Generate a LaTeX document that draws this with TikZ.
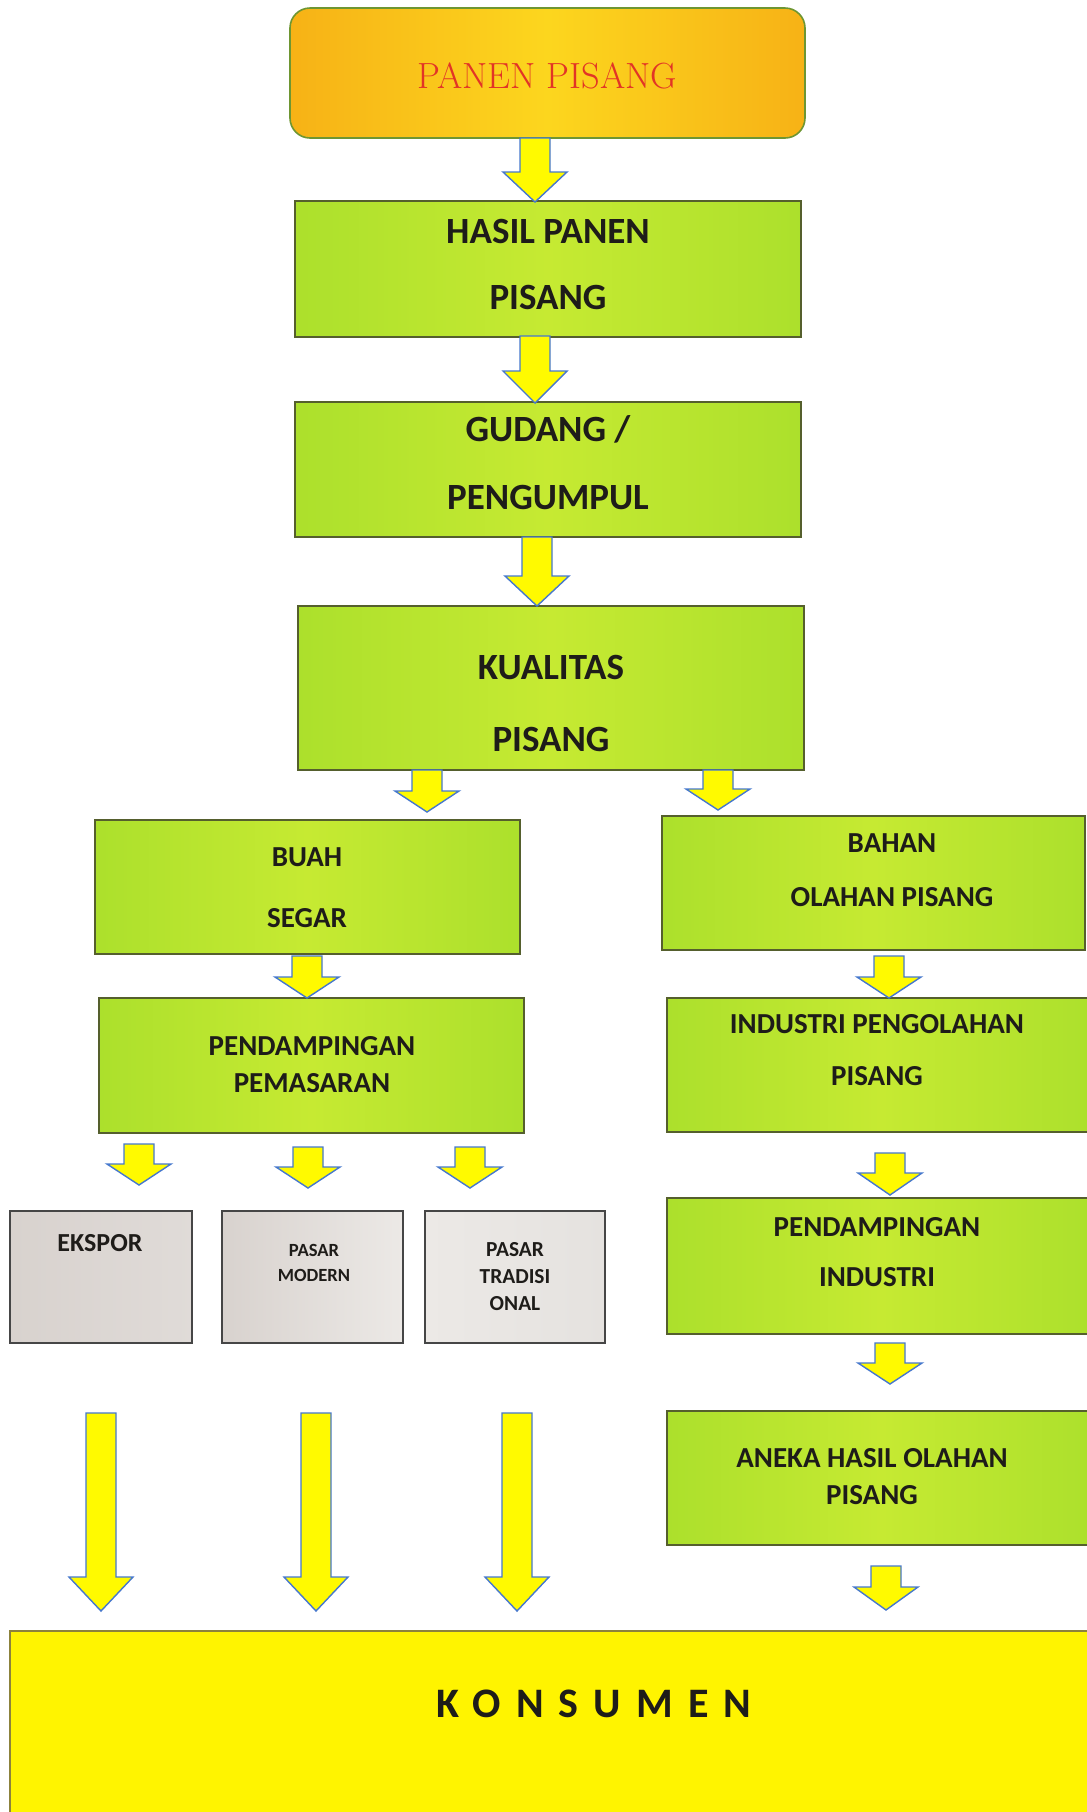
\documentclass[tikz,border=0pt]{standalone}
\usepackage{fontspec}
\newfontfamily\calfont{Carlito}
\newfontfamily\calspaced{Carlito}[LetterSpace=36]
\usetikzlibrary{calc}
\definecolor{boxgreen}{RGB}{172,224,44}
\definecolor{boxgreenM}{RGB}{198,234,50}
\definecolor{boxedge}{RGB}{85,95,45}
\definecolor{panenL}{RGB}{247,178,22}
\definecolor{panenM}{RGB}{252,214,30}
\definecolor{panenedge}{RGB}{110,150,50}
\definecolor{panentext}{RGB}{226,52,38}
\definecolor{greyL}{RGB}{216,210,206}
\definecolor{greyR}{RGB}{236,233,230}
\definecolor{greyedge}{RGB}{70,70,70}
\definecolor{konsfill}{RGB}{255,244,0}
\definecolor{konsedge}{RGB}{140,130,60}
\definecolor{arrfill}{RGB}{255,250,0}
\definecolor{arredge}{RGB}{70,120,205}
\definecolor{txt}{RGB}{30,28,25}
\newcommand{\barrow}[3]{\draw[blockarr] let \p1=(#1), \p2=(#2) in
  (\x1-7.5pt,\y1) -- (\x1+7.5pt,\y1) -- (\x1+7.5pt,\y2+#3) -- (\x1+16pt,\y2+#3)
  -- (\x1,\y2) -- (\x1-16pt,\y2+#3) -- (\x1-7.5pt,\y2+#3) -- cycle;}
\tikzset{
  gbox/.style={draw=boxedge, line width=0.7pt, left color=boxgreen, right color=boxgreen, middle color=boxgreenM, inner sep=0pt},
  greybox/.style={draw=greyedge, line width=0.9pt, left color=greyL, right color=greyR, inner sep=0pt},
  blockarr/.style={draw=arredge, line width=0.7pt, fill=arrfill, line join=miter},
  bigtxt/.style={inner sep=0pt, align=center, text=txt, font={\calfont\bfseries\fontsize{18.5}{#1}\selectfont}},
  midtxt/.style={inner sep=0pt, align=center, text=txt, font={\calfont\bfseries\fontsize{14.5}{#1}\selectfont}},
}
\begin{document}
\begin{tikzpicture}[x=0.5pt,y=-0.5pt]
\useasboundingbox (0,0) rectangle (1087,1812);
\fill[white] (0,0) rectangle (1087,1812);
% boxes
\node[draw=panenedge, line width=0.8pt, rounded corners=10pt, left color=panenL, right color=panenL, middle color=panenM,
      minimum width=257.5pt, minimum height=65pt, inner sep=0pt] (panen) at (547.5,73) {};
\node[inner sep=0pt, text=panentext, font=\fontsize{18.2}{22}\selectfont] (panenT) at (547,76) {PANEN PISANG};
\node[gbox, minimum width=253pt, minimum height=68pt] (hasil) at (548,269) {};
\node[bigtxt=33pt] (hasilT) at (548,264) {HASIL PANEN\\PISANG};
\node[gbox, minimum width=253pt, minimum height=67.5pt] (gudang) at (548,469.5) {};
\node[bigtxt=34pt] (gudangT) at (548,463) {GUDANG /\\PENGUMPUL};
\node[gbox, minimum width=253pt, minimum height=82pt] (kualitas) at (551,688) {};
\node[bigtxt=36pt] (kualitasT) at (551,703) {KUALITAS\\PISANG};
\node[gbox, minimum width=212.5pt, minimum height=67pt] (buah) at (307.5,887) {};
\node[midtxt=30.5pt] (buahT) at (307,887.5) {BUAH\\SEGAR};
\node[gbox, minimum width=211.5pt, minimum height=67pt] (bahan) at (873.5,883) {};
\node[midtxt=27pt] (bahanT) at (892,870) {BAHAN\\OLAHAN PISANG};
\node[gbox, minimum width=212.5pt, minimum height=67.5pt] (pendpem) at (311.5,1065.5) {};
\node[midtxt=18.5pt] (pendpemT) at (312,1064.5) {PENDAMPINGAN\\PEMASARAN};
\node[gbox, minimum width=214pt, minimum height=67pt] (indpeng) at (881,1065) {};
\node[midtxt=26pt] (indpengT) at (877,1050) {INDUSTRI PENGOLAHAN\\PISANG};
\node[greybox, minimum width=91pt, minimum height=66pt, left color=greyL, right color=greyL!80!white] (ekspor) at (101,1277) {};
\node[inner sep=0pt, text=txt, font={\calfont\bfseries\fontsize{13}{14}\selectfont}] (eksporT) at (100,1243) {EKSPOR};
\node[greybox, minimum width=90.5pt, minimum height=66pt] (modern) at (312.5,1277) {};
\node[inner sep=0pt, align=center, text=txt, font={\calfont\bfseries\fontsize{9.3}{12.5}\selectfont}] (modernT) at (314,1262.5) {PASAR\\MODERN};
\node[greybox, minimum width=90pt, minimum height=66pt, left color=greyR, right color=greyR!97!black] (trad) at (515,1277) {};
\node[inner sep=0pt, align=center, text=txt, font={\calfont\bfseries\fontsize{10.7}{13.5}\selectfont}] (tradT) at (515,1277) {PASAR\\TRADISI\\ONAL};
\node[gbox, minimum width=214pt, minimum height=68pt] (pendind) at (881,1266) {};
\node[midtxt=25pt] (pendindT) at (877,1252) {PENDAMPINGAN\\INDUSTRI};
\node[gbox, minimum width=214pt, minimum height=67pt] (aneka) at (881,1478) {};
\node[midtxt=18.5pt] (anekaT) at (872,1476.5) {ANEKA HASIL OLAHAN\\PISANG};
\node[draw=konsedge, line width=0.8pt, fill=konsfill, minimum width=545pt, minimum height=99.5pt, inner sep=0pt] (kons) at (555,1730.5) {};
\node[inner sep=0pt, text=txt, font={\calspaced\bfseries\fontsize{21}{24}\selectfont}] (konsT) at (594,1704) {KONSUMEN};
% arrow ends
\coordinate (a1s) at (535,138);  \coordinate (a1e) at (535,202);
\coordinate (a2s) at (535,336);  \coordinate (a2e) at (535,403);
\coordinate (a3s) at (537,537);  \coordinate (a3e) at (537,606);
\coordinate (a4s) at (427,770);  \coordinate (a4e) at (427,812);
\coordinate (a5s) at (718,770);  \coordinate (a5e) at (718,810);
\coordinate (a6s) at (307,956);  \coordinate (a6e) at (307,998);
\coordinate (a7s) at (889,956);  \coordinate (a7e) at (889,998);
\coordinate (a8s) at (139,1144); \coordinate (a8e) at (139,1185);
\coordinate (a9s) at (308,1147); \coordinate (a9e) at (308,1188);
\coordinate (a10s) at (470,1147); \coordinate (a10e) at (470,1188);
\coordinate (a11s) at (890,1153); \coordinate (a11e) at (890,1195);
\coordinate (a12s) at (890,1343); \coordinate (a12e) at (890,1384);
\coordinate (a13s) at (101,1413); \coordinate (a13e) at (101,1611);
\coordinate (a14s) at (316,1413); \coordinate (a14e) at (316,1611);
\coordinate (a15s) at (517,1413); \coordinate (a15e) at (517,1611);
\coordinate (a16s) at (886,1566); \coordinate (a16e) at (886,1610);
\barrow{a1s}{a1e}{15pt}
\barrow{a2s}{a2e}{16pt}
\barrow{a3s}{a3e}{15pt}
\barrow{a4s}{a4e}{10.5pt}
\barrow{a5s}{a5e}{10.5pt}
\barrow{a6s}{a6e}{10.5pt}
\barrow{a7s}{a7e}{10.5pt}
\barrow{a8s}{a8e}{10.5pt}
\barrow{a9s}{a9e}{10.5pt}
\barrow{a10s}{a10e}{10.5pt}
\barrow{a11s}{a11e}{11pt}
\barrow{a12s}{a12e}{10.5pt}
\barrow{a13s}{a13e}{17pt}
\barrow{a14s}{a14e}{17pt}
\barrow{a15s}{a15e}{17pt}
\barrow{a16s}{a16e}{11.5pt}
\end{tikzpicture}
\end{document}
